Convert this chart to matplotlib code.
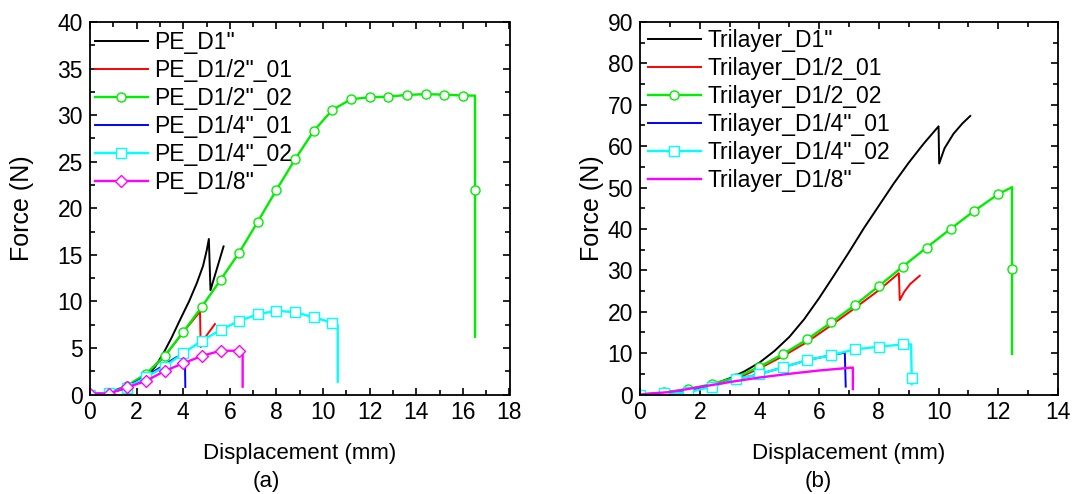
import matplotlib
matplotlib.use("Agg")
import matplotlib.pyplot as plt
from matplotlib.ticker import MultipleLocator

plt.rcParams['font.family'] = ['Liberation Sans', 'DejaVu Sans']

# ---------------- (a) PE ----------------
pe_d1_x = [0, 0.5, 1.0, 1.4, 1.72, 2.1, 2.43, 2.8, 3.15, 3.5, 3.86, 4.25, 4.58, 4.85, 5.01, 5.1, 5.17, 5.73]
pe_d1_y = [0, 0.05, 0.3, 0.55, 0.84, 1.3, 1.91, 3.0, 4.43, 6.1, 8.0, 10.0, 11.94, 13.8, 15.5, 16.7, 11.2, 15.9]

pe_d12_01_x = [0, 0.8, 1.6, 2.4, 3.2, 4.0, 4.72, 4.75, 4.86, 5.36]
pe_d12_01_y = [0, 0.2, 0.95, 2.2, 4.1, 6.7, 8.9, 5.1, 5.85, 7.57]

pe_d12_02_x = [0, 0.8, 1.6, 2.4, 3.2, 4.0, 4.8, 5.6, 6.4, 7.2, 8.0, 8.8, 9.6, 10.4,
               11.2, 12.0, 12.8, 13.6, 14.4, 15.2, 16.0, 16.52, 16.52, 16.52]
pe_d12_02_y = [0, 0.19, 0.95, 2.2, 4.13, 6.71, 9.43, 12.3, 15.23, 18.56, 21.97, 25.26, 28.3, 30.56,
               31.71, 31.92, 31.99, 32.17, 32.25, 32.2, 32.1, 32.1, 22.0, 6.2]
pe_d12_02_marks = list(range(21)) + [22]

pe_d14_01_x = [0, 0.8, 1.6, 2.4, 3.2, 3.7, 4.07, 4.09]
pe_d14_01_y = [0, 0.2, 0.85, 1.95, 3.2, 4.0, 4.3, 0.8]

pe_d14_02_x = [0, 0.8, 1.6, 2.4, 3.2, 4.0, 4.8, 5.6, 6.4, 7.2, 8.0, 8.8, 9.6, 10.4, 10.63, 10.63]
pe_d14_02_y = [0, 0.2, 0.75, 1.85, 2.99, 4.43, 5.78, 6.93, 7.9, 8.61, 9.0, 8.83, 8.29, 7.71, 7.46, 1.37]
pe_d14_02_marks = list(range(14))

pe_d18_x = [0, 0.8, 1.6, 2.4, 3.2, 4.0, 4.8, 5.6, 6.4, 6.55, 6.55]
pe_d18_y = [0.1, 0.1, 0.77, 1.45, 2.52, 3.35, 4.14, 4.7, 4.7, 4.67, 0.84]
pe_d18_marks = list(range(9))

pe_labels = ['PE_D1"', 'PE_D1/2"_01', 'PE_D1/2"_02', 'PE_D1/4"_01', 'PE_D1/4"_02', 'PE_D1/8"']

# ---------------- (b) Trilayer ----------------
tri_d1_x = [0, 0.5, 1, 1.5, 2, 2.5, 3, 3.5, 4, 4.5, 5, 5.5, 6, 6.5, 7, 7.5, 8, 8.5, 9, 9.5, 10.0,
            10.02, 10.2, 10.5, 10.8, 11.06]
tri_d1_y = [0, 0.1, 0.4, 0.9, 1.6, 2.6, 3.9, 5.6, 7.7, 10.5, 13.9, 18.2, 23.3, 28.8, 34.4, 40.2,
            45.6, 51.0, 56.0, 60.6, 64.8, 55.8, 59.5, 63.0, 65.5, 67.3]

tri_d12_01_x = [0, 0.8, 1.6, 2.4, 3.2, 4.0, 4.8, 5.6, 6.4, 7.2, 8.0, 8.67, 8.7, 8.85, 9.05, 9.37]
tri_d12_01_y = [0, 0.4, 1.1, 2.3, 3.7, 6.3, 9.3, 12.7, 16.7, 20.9, 25.2, 29.3, 22.8, 24.8, 26.7, 28.7]

tri_d12_02_x = [0, 0.8, 1.6, 2.4, 3.2, 4.0, 4.8, 5.6, 6.4, 7.2, 8.0, 8.8, 9.6, 10.4,
                11.2, 12.0, 12.46, 12.46, 12.46]
tri_d12_02_y = [0, 0.5, 1.3, 2.5, 4.1, 6.7, 9.8, 13.3, 17.4, 21.6, 26.2, 30.9, 35.5, 40.0,
                44.4, 48.4, 50.1, 30.3, 9.8]
tri_d12_02_marks = list(range(16)) + [17]

tri_d14_01_x = [0, 0.8, 1.6, 2.4, 3.2, 4.0, 4.8, 5.6, 6.4, 6.86, 6.89]
tri_d14_01_y = [0, 0.3, 0.6, 2.0, 3.7, 4.9, 6.6, 8.3, 9.5, 10.1, 1.9]

tri_d14_02_x = [0, 0.8, 1.6, 2.4, 3.2, 4.0, 4.8, 5.6, 6.4, 7.2, 8.0, 8.8, 9.08, 9.1, 9.1]
tri_d14_02_y = [0, 0.3, 0.5, 1.9, 3.7, 4.9, 6.6, 8.3, 9.5, 10.9, 11.55, 12.1, 12.1, 4.0, 2.5]
tri_d14_02_marks = list(range(12)) + [13]

tri_d18_x = [0, 1, 2, 3, 4, 5, 6, 7.1, 7.13, 7.13]
tri_d18_y = [0, 0.6, 1.8, 3.0, 4.1, 5.0, 5.8, 6.5, 6.5, 1.3]

tri_labels = ['Trilayer_D1"', 'Trilayer_D1/2_01', 'Trilayer_D1/2_02',
              'Trilayer_D1/4"_01', 'Trilayer_D1/4"_02', 'Trilayer_D1/8"']

BLACK, RED, GREEN, BLUE, CYAN, MAG = '#000000', '#ff0000', '#00ee00', '#0000ff', '#00ffff', '#ff00ff'
LW = 1.4
MS = 6.5

fig = plt.figure(figsize=(10.72, 4.94), dpi=100)
axa = fig.add_axes([90 / 1072, 99.5 / 494, 419.5 / 1072, 372.5 / 494])
axb = fig.add_axes([640 / 1072, 99.5 / 494, 418 / 1072, 372.5 / 494])

mk = dict(mfc='white', mew=1.0, ms=MS)

axa.plot(pe_d1_x, pe_d1_y, color=BLACK, lw=LW, label=pe_labels[0])
axa.plot(pe_d12_01_x, pe_d12_01_y, color=RED, lw=LW, label=pe_labels[1])
axa.plot(pe_d12_02_x, pe_d12_02_y, color=GREEN, lw=LW + 0.3, marker='o',
         markevery=pe_d12_02_marks, mec=GREEN, label=pe_labels[2], **mk)
axa.plot(pe_d14_01_x, pe_d14_01_y, color=BLUE, lw=LW, label=pe_labels[3])
axa.plot(pe_d14_02_x, pe_d14_02_y, color=CYAN, lw=LW + 0.3, marker='s',
         markevery=pe_d14_02_marks, mec=CYAN, label=pe_labels[4], **mk)
axa.plot(pe_d18_x, pe_d18_y, color=MAG, lw=LW + 0.3, marker='D',
         markevery=pe_d18_marks, mec=MAG, label=pe_labels[5], **mk)

axb.plot(tri_d1_x, tri_d1_y, color=BLACK, lw=LW, label=tri_labels[0])
axb.plot(tri_d12_01_x, tri_d12_01_y, color=RED, lw=LW, label=tri_labels[1])
axb.plot(tri_d12_02_x, tri_d12_02_y, color=GREEN, lw=LW + 0.3, marker='o',
         markevery=tri_d12_02_marks, mec=GREEN, label=tri_labels[2], **mk)
axb.plot(tri_d14_01_x, tri_d14_01_y, color=BLUE, lw=LW, label=tri_labels[3])
axb.plot(tri_d14_02_x, tri_d14_02_y, color=CYAN, lw=LW + 0.3, marker='s',
         markevery=tri_d14_02_marks, mec=CYAN, label=tri_labels[4], **mk)
axb.plot(tri_d18_x, tri_d18_y, color=MAG, lw=LW + 0.3, label=tri_labels[5])


def style(ax, xmax, xmaj, ymax, ymaj, ylab_x):
    ax.set_xlim(0, xmax)
    ax.set_ylim(0, ymax)
    ax.xaxis.set_major_locator(MultipleLocator(xmaj))
    ax.xaxis.set_minor_locator(MultipleLocator(xmaj / 2))
    ax.yaxis.set_major_locator(MultipleLocator(ymaj))
    ax.yaxis.set_minor_locator(MultipleLocator(ymaj / 2))
    ax.tick_params(which='both', direction='in', top=True, right=True,
                   width=1.2, labelsize=16.5, color='black')
    ax.tick_params(which='major', length=5, pad=5)
    ax.tick_params(which='minor', length=3.5)
    for s in ax.spines.values():
        s.set_linewidth(1.3)
    ax.set_xlabel('Displacement (mm)', fontsize=16, va='center')
    ax.xaxis.set_label_coords(0.5, (394.5 - 453) / 372.5)
    ax.set_ylabel('Force (N)', fontsize=18, va='center')
    ax.yaxis.set_label_coords(ylab_x, 0.5)


style(axa, 18, 2, 40, 5, (22 - 90) / 419.5)
style(axb, 14, 2, 90, 10, (592 - 640) / 418)

leg_kw = dict(loc='upper left', frameon=False, fontsize=16.5, borderpad=0, borderaxespad=0,
              handlelength=2.3, handletextpad=0.28, labelspacing=0.22)
axa.legend(bbox_to_anchor=(5 / 419.5, (394.5 - 31) / 372.5), **leg_kw)
axb.legend(bbox_to_anchor=(8 / 418, (394.5 - 29) / 372.5), **leg_kw)

fig.text(266 / 1072, 1 - 481 / 494, '(a)', fontsize=16, ha='center', va='center')
fig.text(818 / 1072, 1 - 481 / 494, '(b)', fontsize=16, ha='center', va='center')

fig.savefig('out.png', dpi=100)
